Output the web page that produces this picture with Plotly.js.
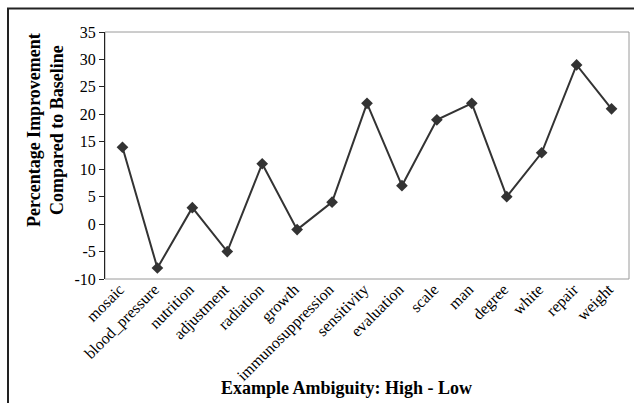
<!DOCTYPE html>
<html>
<head>
<meta charset="utf-8">
<script src="https://cdn.plot.ly/plotly-3.0.1.min.js"></script>
<style>html,body{margin:0;padding:0;background:#fff;}#chart{width:634px;height:403px;}</style>
</head>
<body>
<div id="chart"></div>
<script>
const categories = ["mosaic","blood_pressure","nutrition","adjustment","radiation","growth","immunosuppression","sensitivity","evaluation","scale","man","degree","white","repair","weight"];
const improvement = [14, -8, 3, -5, 11, -1, 4, 22, 7, 19, 22, 5, 13, 29, 21];
const yTickValues = [-10, -5, 0, 5, 10, 15, 20, 25, 30, 35];
const yTickLabels = ["-10", "-5", "0", "5", "10", "15", "20", "25", "30", "35"];
const yTitle = "Percentage Improvement<br>Compared to Baseline";
const xTitle = "Example Ambiguity: High - Low";

const FONT = "Liberation Serif, Times New Roman, serif";
const W = 634, H = 403;
const L = 105, R = 5, T = 32, B = 124;
const pw = W - L - R, ph = H - T - B;
const px2x = p => (p - L) / pw;
const py2y = p => (H - B - p) / ph;
const yMin = -10, yMax = 35;

const trace = {
  x: categories,
  y: improvement,
  type: "scatter",
  mode: "lines+markers",
  line: {color: "#333333", width: 2},
  marker: {symbol: "diamond", size: 9, color: "#333333"},
  hoverinfo: "x+y",
  showlegend: false
};

const layout = {
  width: W, height: H,
  margin: {l: L, r: R, t: T, b: B, pad: 0},
  paper_bgcolor: "#ffffff",
  plot_bgcolor: "#ffffff",
  font: {family: FONT, color: "#000000", size: 16},
  xaxis: {
    type: "category",
    categoryorder: "array",
    categoryarray: categories,
    range: [-0.5, categories.length - 0.5],
    showgrid: false, zeroline: false, showline: false,
    ticks: "", tickangle: -45,
    ticklabelstandoff: -3,
    ticklabelshift: -3,
    tickfont: {family: FONT, size: 16, color: "#000"},
    fixedrange: true
  },
  xaxis2: {
    type: "category",
    categoryorder: "array",
    categoryarray: categories,
    range: [-0.5, categories.length - 0.5],
    overlaying: "x",
    anchor: "free",
    position: (0 - yMin) / (yMax - yMin),
    showline: true, linecolor: "#222", linewidth: 1,
    ticks: "outside", tickson: "boundaries", ticklen: 5, tickcolor: "#222", tickwidth: 1,
    showticklabels: false, showgrid: false, zeroline: false,
    fixedrange: true
  },
  yaxis: {
    range: [yMin, yMax],
    tickmode: "array", tickvals: yTickValues, ticktext: yTickLabels,
    showgrid: false, zeroline: false,
    showline: true, linecolor: "#222", linewidth: 1,
    ticks: "outside", ticklen: 5, tickcolor: "#222",
    tickfont: {family: FONT, size: 16, color: "#000"},
    fixedrange: true
  },
  shapes: [
    {type: "rect", xref: "paper", yref: "paper", x0: 0, x1: 1, y0: 0, y1: 1,
     line: {color: "#9a9a9a", width: 1}, layer: "below"},
    {type: "rect", xref: "paper", yref: "paper",
     x0: px2x(8), x1: px2x(645), y0: py2y(415), y1: py2y(8.5),
     line: {color: "#222", width: 2}}
  ],
  annotations: [
    {text: "<b>" + yTitle + "</b>", xref: "paper", yref: "paper",
     x: px2x(45), y: py2y(130), xanchor: "center", yanchor: "middle",
     textangle: -90, showarrow: false,
     font: {family: FONT, size: 18, color: "#000"}},
    {text: "<b>" + xTitle + "</b>", xref: "paper", yref: "paper",
     x: px2x(346), y: py2y(388), xanchor: "center", yanchor: "middle",
     showarrow: false,
     font: {family: FONT, size: 18, color: "#000"}}
  ]
};

Plotly.newPlot("chart", [trace], layout, {displayModeBar: false, staticPlot: true});
</script>
</body>
</html>
